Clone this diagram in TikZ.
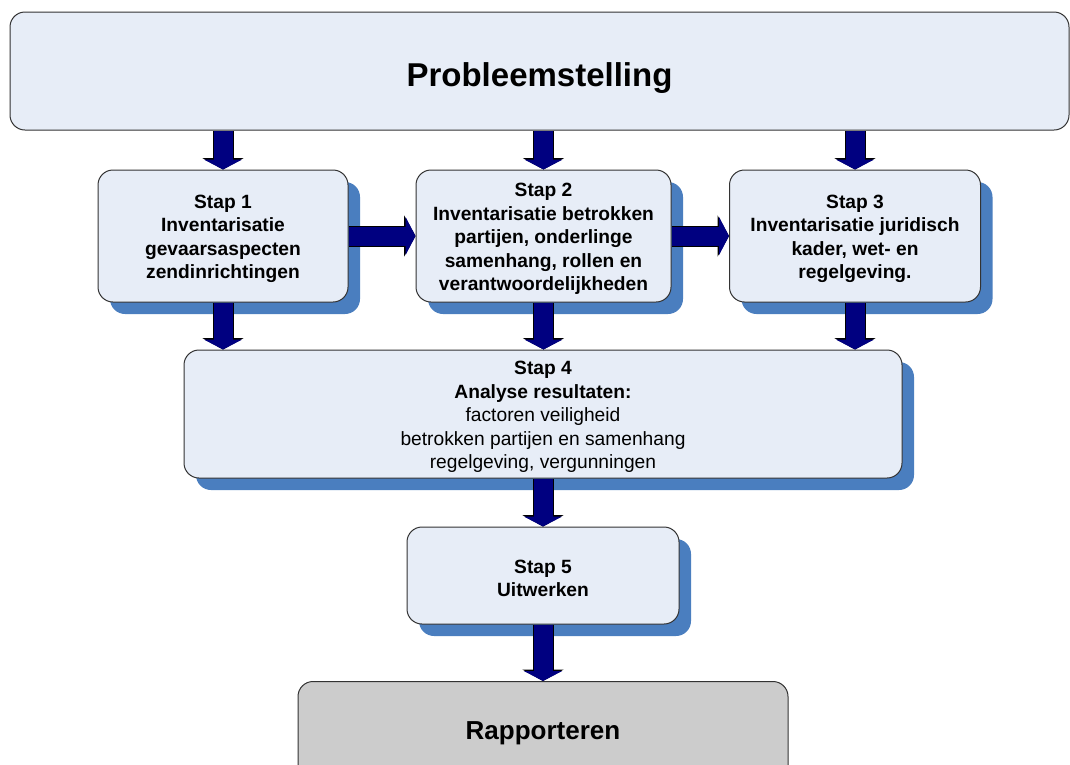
\documentclass[tikz,border=0pt]{standalone}
\usepackage{fontspec}
\setmainfont{Liberation Sans}
\usetikzlibrary{arrows.meta,shadows}
\definecolor{boxfill}{HTML}{E7EDF7}
\definecolor{shadowblue}{HTML}{4A7EBF}
\definecolor{navyarrow}{HTML}{000080}
\definecolor{graybox}{HTML}{CCCCCC}
\definecolor{edge}{HTML}{333333}
\tikzset{
  stepbox/.style={draw=edge, line width=1pt, fill=boxfill, rounded corners=15pt,
    inner sep=0pt,
    drop shadow={shadow xshift=12pt, shadow yshift=-12pt, fill=shadowblue, opacity=1}},
  steptext/.style={align=center, inner sep=0pt, yshift=-3pt,
    font=\fontsize{19.2}{23.5}\selectfont},
}
\newcommand{\barrow}[2]{%
  \draw[navyarrow, line width=21pt, -{Triangle[width=41pt,length=11.5pt]}, draw=black] #1 -- #2;
  \draw[navyarrow, line width=19pt, -{Triangle[width=38pt,length=10pt]}] #1 -- #2;}
\begin{document}
\begin{tikzpicture}[x=1pt,y=-1pt]
\useasboundingbox (0,0) rectangle (1070,764);
\begin{scope}
\clip (0,0) rectangle (1070,764);
\node[draw=edge, line width=1pt, fill=boxfill, rounded corners=15pt,
  minimum width=1059pt, minimum height=118pt, inner sep=0pt] (p) at (539.5,71) {};
\node[font=\fontsize{33}{36}\selectfont\bfseries, yshift=-7pt] (pt) at (p.center) {Probleemstelling};
\node[stepbox, minimum width=250pt, minimum height=132pt] (s1) at (223,236) {};
\node[steptext] (t1) at (s1.center)
  {\bfseries Stap 1\\\bfseries Inventarisatie\\\bfseries gevaarsaspecten\\\bfseries zendinrichtingen};
\node[stepbox, minimum width=255pt, minimum height=132pt] (s2) at (543.5,236) {};
\node[steptext] (t2) at (s2.center)
  {\bfseries Stap 2\\\bfseries Inventarisatie betrokken\\\bfseries partijen, onderlinge\\\bfseries samenhang, rollen en\\\bfseries verantwoordelijkheden};
\node[stepbox, minimum width=251pt, minimum height=132pt] (s3) at (855,236) {};
\node[steptext] (t3) at (s3.center)
  {\bfseries Stap 3\\\bfseries Inventarisatie juridisch\\\bfseries kader, wet- en\\\bfseries regelgeving.};
\node[stepbox, minimum width=718pt, minimum height=128pt] (s4) at (543,414) {};
\node[steptext] (t4) at (s4.center)
  {\bfseries Stap 4\\\bfseries Analyse resultaten:\\factoren veiligheid\\betrokken partijen en samenhang\\regelgeving, vergunningen};
\node[stepbox, minimum width=272pt, minimum height=97pt] (s5) at (543,575.5) {};
\node[steptext] (t5) at (s5.center) {\bfseries Stap 5\\\bfseries Uitwerken};
\node[draw=edge, line width=1pt, fill=graybox, rounded corners=15pt,
  minimum width=490pt, minimum height=100pt, inner sep=0pt, anchor=north] (r) at (543,681) {};
\node[font=\fontsize{26}{30}\selectfont\bfseries] (rt) at (543,733) {Rapporteren};
\end{scope}
\barrow{(p.south -| s1.north)}{(s1.north)}
\barrow{(p.south -| s2.north)}{(s2.north)}
\barrow{(p.south -| s3.north)}{(s3.north)}
\barrow{(s1.east)}{(s2.west)}
\barrow{(s2.east)}{(s3.west)}
\barrow{(s1.south)}{(s4.north -| s1.south)}
\barrow{(s2.south)}{(s4.north -| s2.south)}
\barrow{(s3.south)}{(s4.north -| s3.south)}
\barrow{(s4.south)}{(s5.north)}
\barrow{(s5.south)}{(r.north)}
\end{tikzpicture}
\end{document}
